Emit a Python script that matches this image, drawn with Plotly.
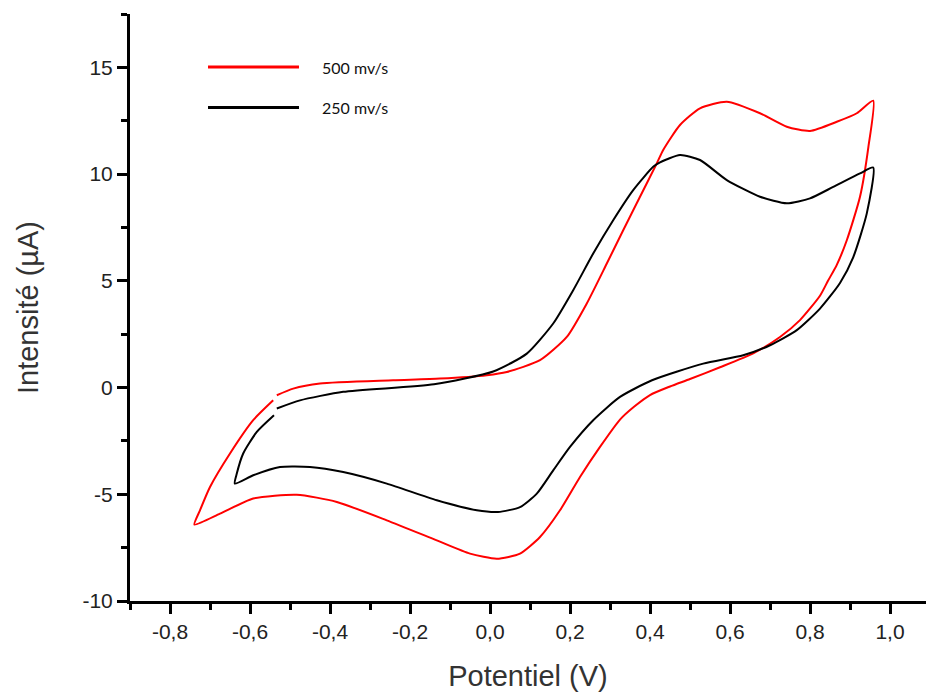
import plotly.graph_objects as go

# ---- data ----
series_names = ["500 mv/s", "250 mv/s"]
series_colors = ["#ff0000", "#000000"]

red_x = [-0.542, -0.592, -0.65, -0.70, -0.725, -0.739,
         -0.675, -0.592, -0.483, -0.383, -0.258, -0.133, -0.05, 0.017, 0.075, 0.125,
         0.175, 0.225, 0.275, 0.325, 0.36, 0.40, 0.45, 0.50, 0.575, 0.658, 0.725,
         0.775, 0.825, 0.845, 0.867, 0.892, 0.925, 0.946, 0.958,
         0.917, 0.867, 0.80, 0.742, 0.675, 0.592, 0.525, 0.475, 0.433, 0.417, 0.375,
         0.333, 0.292, 0.242, 0.192, 0.125, 0.042, -0.008, -0.125, -0.242, -0.425,
         -0.492, -0.533]
red_y = [-0.60, -1.53, -3.09, -4.66, -5.75, -6.42,
         -5.91, -5.20, -5.02, -5.36, -6.22, -7.16, -7.78, -8.02, -7.78, -7.0,
         -5.75, -4.19, -2.78, -1.50, -0.90, -0.35, 0.05, 0.40, 0.95, 1.60, 2.37,
         3.16, 4.30, 5.0, 5.75, 6.9, 8.94, 11.28, 13.44,
         12.85, 12.45, 12.02, 12.22, 12.85, 13.39, 13.08, 12.3, 11.13, 10.5, 8.94,
         7.37, 5.81, 3.94, 2.37, 1.28, 0.73, 0.58, 0.42, 0.34, 0.19,
         -0.05, -0.36]

black_x = [-0.54, -0.583, -0.617, -0.633, -0.638,
           -0.592, -0.525, -0.45, -0.367, -0.258, -0.133, -0.033, 0.02, 0.075, 0.117,
           0.158, 0.2, 0.258, 0.325, 0.405, 0.533, 0.633, 0.7, 0.767, 0.825, 0.875,
           0.908, 0.942, 0.958,
           0.925, 0.858, 0.80, 0.742, 0.675, 0.592, 0.525, 0.475, 0.425, 0.408,
           0.358, 0.308, 0.258, 0.208, 0.158, 0.092, 0.008, -0.14, -0.367, -0.475,
           -0.533]
black_y = [-1.30, -2.08, -3.09, -4.03, -4.5,
           -4.11, -3.72, -3.72, -3.96, -4.5, -5.28, -5.75, -5.83, -5.6, -4.97,
           -3.88, -2.78, -1.53, -0.44, 0.34, 1.12, 1.51, 1.98, 2.69, 3.7, 4.9,
           6.1, 8.16, 10.31,
           10.03, 9.4, 8.86, 8.63, 8.94, 9.72, 10.66, 10.89, 10.55, 10.34,
           9.25, 7.84, 6.28, 4.56, 3.0, 1.59, 0.75, 0.15, -0.2, -0.6,
           -0.98]

x_tickvals = [-0.8, -0.6, -0.4, -0.2, 0.0, 0.2, 0.4, 0.6, 0.8, 1.0]
x_ticktext = ["-0,8", "-0,6", "-0,4", "-0,2", "0,0", "0,2", "0,4", "0,6", "0,8", "1,0"]
y_tickvals = [-10, -5, 0, 5, 10, 15]
y_ticktext = ["-10", "-5", "0", "5", "10", "15"]

x_title = "Potentiel (V)"
y_title = "Intensité (µA)"

fig = go.Figure()
for name, color, xs, ys in [(series_names[0], series_colors[0], red_x, red_y),
                            (series_names[1], series_colors[1], black_x, black_y)]:
    fig.add_trace(go.Scatter(x=xs, y=ys, mode="lines", name=name,
                             line=dict(color=color, width=2, shape="spline", smoothing=0.6),
                             showlegend=False))

# legend drawn manually (long sample lines as in the reference)
legend_y = [0.9097, 0.8407]
for i, (name, color) in enumerate(zip(series_names, series_colors)):
    fig.add_shape(type="line", xref="paper", yref="paper",
                  x0=0.098, x1=0.2123, y0=legend_y[i], y1=legend_y[i],
                  line=dict(color=color, width=3))
    fig.add_annotation(xref="paper", yref="paper", x=0.239, y=legend_y[i],
                       text=name, showarrow=False, xanchor="left", yanchor="middle",
                       font=dict(family="Lato, Open Sans, sans-serif", size=16, color="#111"))

axis_font = dict(family="Liberation Sans, Arial, sans-serif", size=21, color="#222")
title_font = dict(family="Liberation Sans, Arial, sans-serif", size=29, color="#333")
fig.update_xaxes(range=[-0.9, 1.09], showline=True, linecolor="black", linewidth=3,
                 ticks="outside", ticklen=10, tickwidth=3, tickcolor="black",
                 tickvals=x_tickvals, ticktext=x_ticktext, tickfont=axis_font,
                 minor=dict(ticks="outside", ticklen=6, tickwidth=3, tickcolor="black", dtick=0.1, tick0=0),
                 showgrid=False, zeroline=False, automargin=False,
                 title=dict(text=x_title, font=title_font, standoff=24))
fig.update_yaxes(range=[-10, 17.5], showline=True, linecolor="black", linewidth=3,
                 ticks="outside", ticklen=10, tickwidth=3, tickcolor="black",
                 tickvals=y_tickvals, ticktext=y_ticktext, tickfont=axis_font,
                 minor=dict(ticks="outside", ticklen=6, tickwidth=3, tickcolor="black", dtick=2.5, tick0=0),
                 showgrid=False, zeroline=False, automargin=False,
                 title=dict(text=y_title, font=title_font, standoff=36))

fig.update_layout(width=926, height=696, margin=dict(l=130, r=0, t=14, b=95),
                  plot_bgcolor="white", paper_bgcolor="white", showlegend=False)

fig.write_html("out.html", config={"displayModeBar": False},
               post_script="document.body.style.margin='0';")
